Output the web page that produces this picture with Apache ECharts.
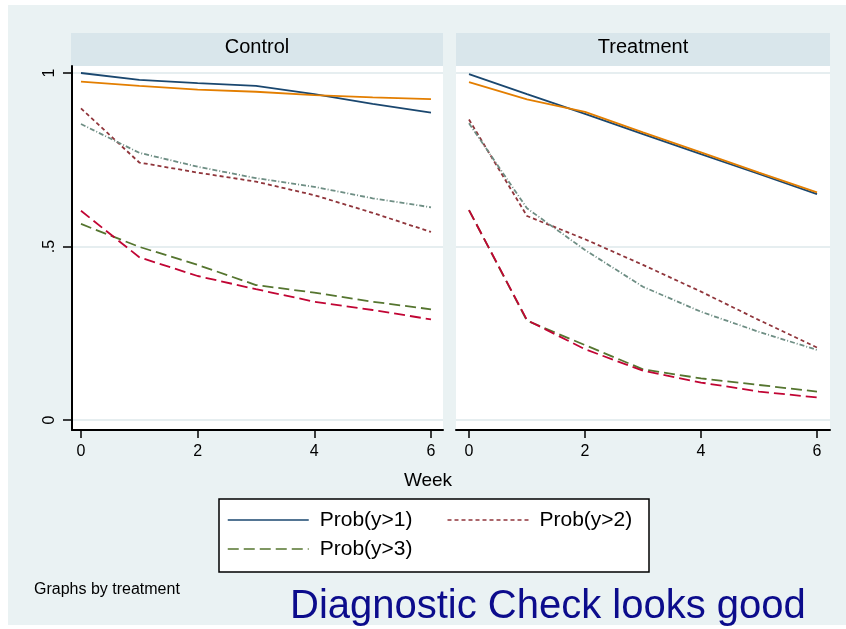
<!DOCTYPE html>
<html>
<head>
<meta charset="utf-8">
<script src="https://cdn.jsdelivr.net/npm/echarts@6/dist/echarts.min.js"></script>
<style>
html, body { margin: 0; padding: 0; background: #ffffff; }
#chart { width: 846px; height: 629px; }
</style>
</head>
<body>
<div id="chart"></div>
<script>
// week numbers and tick labels
var weeks = [0, 1, 2, 3, 4, 5, 6];
var xTicks = [0, 2, 4, 6];
var yTicks = [0, 0.5, 1];
var yTickLabels = ['0', '.5', '1'];
var panels = ['Control', 'Treatment'];

// Control panel (observed = legend series, predicted = overlay)
var obsGt1C = [1.0, 0.980, 0.971, 0.963, 0.939, 0.911, 0.886];
var predGt1C = [0.975, 0.963, 0.952, 0.946, 0.936, 0.930, 0.925];
var obsGt2C = [0.898, 0.742, 0.713, 0.687, 0.648, 0.597, 0.542];
var predGt2C = [0.853, 0.770, 0.730, 0.697, 0.672, 0.639, 0.613];
var obsGt3C = [0.565, 0.499, 0.447, 0.389, 0.367, 0.341, 0.319];
var predGt3C = [0.603, 0.469, 0.415, 0.377, 0.341, 0.317, 0.290];

// Treatment panel
var obsGt1T = [0.997, 0.939, 0.882, 0.824, 0.766, 0.709, 0.651];
var predGt1T = [0.974, 0.924, 0.888, 0.829, 0.771, 0.713, 0.656];
var obsGt2T = [0.866, 0.588, 0.521, 0.447, 0.370, 0.288, 0.209];
var predGt2T = [0.855, 0.610, 0.490, 0.384, 0.312, 0.254, 0.202];
var obsGt3T = [0.605, 0.286, 0.216, 0.146, 0.120, 0.101, 0.082];
var predGt3T = [0.605, 0.288, 0.204, 0.142, 0.108, 0.082, 0.065];

var legendNames = ['Prob(y>1)', 'Prob(y>2)', 'Prob(y>3)'];

var font = 'Liberation Sans, Arial, sans-serif';

function pairs(vals){
	var out = [];
	for(var i=0;i<weeks.length;i++){
		out.push([weeks[i], vals[i]]);
	}
	return out;
}

function line(name, idx, vals, color, type, width){
	return {
		name: name,
		type: 'line',
		xAxisIndex: idx,
		yAxisIndex: idx,
		data: pairs(vals),
		symbol: 'none',
		silent: true,
		animation: false,
		lineStyle: { color: color, type: type, width: width || 1.8 },
		itemStyle: { color: color }
	};
}

var navy = '#1a476f', maroon = '#90353b', green = '#55752f',
	orange = '#e37e00', teal = '#6e8e84', cranberry = '#c10534';

var seriesArray = [
	line('Prob(y>1)', 0, obsGt1C, navy, 'solid'),
	line('Prob(y>2)', 0, obsGt2C, maroon, [4, 3]),
	line('Prob(y>3)', 0, obsGt3C, green, [11, 5]),
	line('Pred(y>1)', 0, predGt1C, orange, 'solid'),
	line('Pred(y>2)', 0, predGt2C, teal, [5, 2, 1, 2]),
	line('Pred(y>3)', 0, predGt3C, cranberry, [11, 5]),
	line('Prob(y>1)', 1, obsGt1T, navy, 'solid'),
	line('Prob(y>2)', 1, obsGt2T, maroon, [4, 3]),
	line('Prob(y>3)', 1, obsGt3T, green, [11, 5]),
	line('Pred(y>1)', 1, predGt1T, orange, 'solid'),
	line('Pred(y>2)', 1, predGt2T, teal, [5, 2, 1, 2]),
	line('Pred(y>3)', 1, predGt3T, cranberry, [11, 5])
];

function xAxisFor(idx, min, max){
	return {
		type: 'value',
		gridIndex: idx,
		min: min,
		max: max,
		axisLine: { show: true, onZero: false, lineStyle: { color: '#000', width: 2 } },
		axisTick: { show: true, length: 8, customValues: xTicks, lineStyle: { color: '#000', width: 1.5 } },
		axisLabel: { customValues: xTicks, margin: 14, color: '#000', fontSize: 16, fontFamily: font },
		splitLine: { show: false }
	};
}

function yAxisFor(idx, showAxis){
	return {
		type: 'value',
		gridIndex: idx,
		min: -0.0288,
		max: 1.0202,
		axisLine: { show: showAxis, onZero: false, lineStyle: { color: '#000', width: 2 } },
		axisTick: { show: showAxis, length: 9, customValues: yTicks, lineStyle: { color: '#000', width: 1.5 } },
		axisLabel: {
			show: showAxis,
			customValues: yTicks,
			rotate: 90,
			margin: 14,
			color: '#000',
			fontSize: 16,
			fontFamily: font,
			formatter: function(v){
				for(var i=0;i<yTicks.length;i++){
					if(Math.abs(yTicks[i]-v) < 1e-6) return yTickLabels[i];
				}
				return '';
			}
		},
		splitLine: { show: true, customValues: yTicks, lineStyle: { color: '#e6eef0', width: 2 } }
	};
}

var myChart = echarts.init(document.getElementById('chart'), null, { renderer: 'canvas' });

var option = {
	backgroundColor: '#ffffff',
	animation: false,
	grid: [
		{ left: 72, top: 66, width: 371, height: 364, show: true, backgroundColor: '#ffffff', borderWidth: 0 },
		{ left: 456, top: 66, width: 374, height: 364, show: true, backgroundColor: '#ffffff', borderWidth: 0 }
	],
	xAxis: [ xAxisFor(0, -0.154, 6.206), xAxisFor(1, -0.224, 6.224) ],
	yAxis: [ yAxisFor(0, true), yAxisFor(1, false) ],
	legend: {
		data: legendNames,
		left: 227,
		top: 508,
		width: 440,
		padding: 0,
		itemGap: 5,
		itemWidth: 81,
		itemHeight: 14,
		selectedMode: false,
		itemStyle: { opacity: 0 },
		lineStyle: { width: 1.5 },
		textStyle: {
			color: '#000',
			fontSize: 21,
			fontFamily: font,
			width: 122,
			lineHeight: 24,
			padding: [0, 0, 0, 6]
		}
	},
	graphic: [
		{ type: 'rect', z: -10, silent: true, shape: { x: 8, y: 5, width: 838, height: 620 }, style: { fill: '#eaf2f3' } },
		{ type: 'rect', z: -5, silent: true, shape: { x: 71, y: 33, width: 372, height: 33 }, style: { fill: '#d9e6eb' } },
		{ type: 'rect', z: -5, silent: true, shape: { x: 456, y: 33, width: 374, height: 33 }, style: { fill: '#d9e6eb' } },
		{ type: 'text', silent: true, x: 257, y: 47, style: { text: panels[0], fill: '#000', font: '20px ' + font, align: 'center', verticalAlign: 'middle' } },
		{ type: 'text', silent: true, x: 643, y: 47, style: { text: panels[1], fill: '#000', font: '20px ' + font, align: 'center', verticalAlign: 'middle' } },
		{ type: 'text', silent: true, x: 428, y: 481, style: { text: 'Week', fill: '#000', font: '19px ' + font, align: 'center', verticalAlign: 'middle' } },
		{ type: 'rect', silent: true, shape: { x: 219, y: 499, width: 430, height: 73 }, style: { fill: '#ffffff', stroke: '#000', lineWidth: 1.5 }, z: -1 },
		{ type: 'text', silent: true, x: 34, y: 590, style: { text: 'Graphs by treatment', fill: '#000', font: '16px ' + font, verticalAlign: 'middle' } },
		{ type: 'text', silent: true, x: 290, y: 607, style: { text: 'Diagnostic Check looks good', fill: '#0c0c8c', font: '40px ' + font, verticalAlign: 'middle' } }
	],
	series: seriesArray
};
myChart.setOption(option);
</script>
</body>
</html>
